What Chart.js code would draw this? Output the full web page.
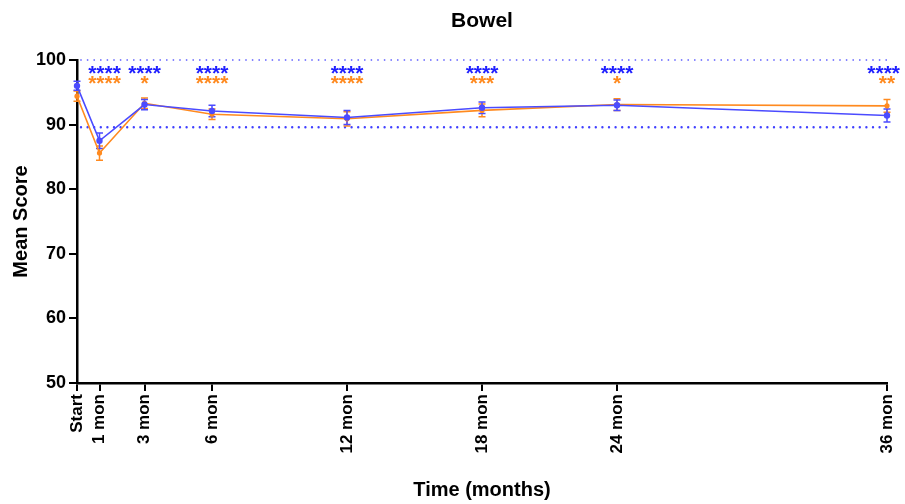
<!DOCTYPE html>
<html>
<head>
<meta charset="utf-8">
<script src="https://cdn.jsdelivr.net/npm/chart.js@4/dist/chart.umd.min.js"></script>
<style>
html,body{margin:0;padding:0;background:#fff;}
#wrap{width:905px;height:504px;position:relative;}
</style>
</head>
<body>
<div id="wrap"><canvas id="c" width="905" height="504"></canvas></div>
<script>
// ---- data ----
const chartTitle = 'Bowel';
const months = [0, 1, 3, 6, 12, 18, 24, 36];
const xLabels = ['Start', '1 mon', '3 mon', '6 mon', '12 mon', '18 mon', '24 mon', '36 mon'];
const yTicks = [50, 60, 70, 80, 90, 100];
const blueMean = [96.0, 87.5, 93.1, 92.1, 91.1, 92.6, 93.0, 91.4];
const blueErr = [0.7, 1.2, 0.8, 0.9, 1.1, 0.9, 0.8, 1.0];
const orangeMean = [94.4, 85.6, 93.3, 91.6, 90.9, 92.2, 93.1, 92.9];
const orangeErr = [0.8, 1.1, 0.8, 0.8, 1.1, 1.0, 0.9, 1.0];
const blueStars = ['', '****', '****', '****', '****', '****', '****', '****'];
const orangeStars = ['', '****', '*', '****', '****', '***', '*', '**'];
const refLines = [100, 89.6];

const BLUE = '#4b4bff';
const ORANGE = '#ff8a1f';
const FONT = "'Liberation Sans', Arial, sans-serif";

const extras = {
  id: 'extras',
  beforeDatasetsDraw(chart) {
    const ctx = chart.ctx, x = chart.scales.x, y = chart.scales.y;
    const ca = chart.chartArea;
    ctx.save();
    // dotted reference lines
    refLines.forEach((v, i) => {
      const py = y.getPixelForValue(v);
      ctx.beginPath();
      ctx.setLineDash([0, 6.6]);
      ctx.lineCap = 'round';
      ctx.lineWidth = i === 0 ? 1.8 : 2.4;
      ctx.strokeStyle = i === 0 ? '#7a7aff' : '#4040ff';
      ctx.moveTo(ca.left + 4, py);
      ctx.lineTo(ca.right, py);
      ctx.stroke();
    });
    ctx.setLineDash([]);
    ctx.lineCap = 'butt';
    // error bars
    const series = [[orangeMean, orangeErr, ORANGE], [blueMean, blueErr, BLUE]];
    series.forEach(([m, e, col]) => {
      ctx.strokeStyle = col;
      ctx.lineWidth = 1.5;
      months.forEach((mo, i) => {
        const px = x.getPixelForValue(mo);
        const y1 = y.getPixelForValue(m[i] + e[i]);
        const y2 = y.getPixelForValue(m[i] - e[i]);
        ctx.beginPath();
        ctx.moveTo(px, y1); ctx.lineTo(px, y2);
        ctx.moveTo(px - 3.5, y1); ctx.lineTo(px + 3.5, y1);
        ctx.moveTo(px - 3.5, y2); ctx.lineTo(px + 3.5, y2);
        ctx.stroke();
      });
    });
    ctx.restore();
  },
  afterDraw(chart) {
    const ctx = chart.ctx, x = chart.scales.x;
    const ca = chart.chartArea;
    ctx.save();
    // title centred over the plot area
    ctx.fillStyle = '#000';
    ctx.font = 'bold 21px ' + FONT;
    ctx.textAlign = 'center';
    ctx.textBaseline = 'middle';
    ctx.fillText(chartTitle, (ca.left + ca.right) / 2, 21);
    // significance stars
    ctx.textBaseline = 'alphabetic';
    const rows = [[blueStars, '#1f1fff', 79.5], [orangeStars, ORANGE, 90]];
    rows.forEach(([stars, col, base]) => {
      ctx.fillStyle = col;
      months.forEach((mo, i) => {
        if (!stars[i]) return;
        let px = x.getPixelForValue(mo);
        if (i === 1) px += 5;
        const w = ctx.measureText(stars[i]).width;
        if (px + w / 2 > 900) px = 900 - w / 2;
        ctx.fillText(stars[i], px, base);
      });
    });
    ctx.restore();
  }
};

new Chart(document.getElementById('c'), {
  type: 'line',
  data: {
    datasets: [
      {
        label: 'Blue',
        data: months.map((m, i) => ({x: m, y: blueMean[i]})),
        borderColor: BLUE,
        backgroundColor: BLUE,
        borderWidth: 1.6,
        pointRadius: 3.2,
        pointBorderWidth: 0,
        tension: 0,
        clip: false
      },
      {
        label: 'Orange',
        data: months.map((m, i) => ({x: m, y: orangeMean[i]})),
        borderColor: ORANGE,
        backgroundColor: ORANGE,
        borderWidth: 1.6,
        pointRadius: 2.6,
        pointBorderWidth: 0,
        tension: 0,
        clip: false
      }
    ]
  },
  options: {
    responsive: false,
    animation: false,
    events: [],
    layout: {padding: {left: 0, right: 18, top: 60, bottom: 0}},
    plugins: {
      legend: {display: false},
      tooltip: {enabled: false},
      title: {display: false}
    },
    scales: {
      x: {
        type: 'linear',
        min: 0, max: 36,
        afterBuildTicks(s) { s.ticks = months.map(v => ({value: v})); },
        afterFit(s) { s.height = 121; s.paddingLeft = 0; s.paddingRight = 0; },
        ticks: {
          autoSkip: false,
          maxRotation: 90, minRotation: 90,
          color: '#000',
          padding: 3,
          font: {family: FONT, size: 17, weight: 'bold'},
          callback: (v) => { const i = months.indexOf(v); return i >= 0 ? xLabels[i] : ''; }
        },
        grid: {drawOnChartArea: false, drawTicks: true, tickLength: 8, color: '#000', lineWidth: 2},
        border: {display: true, color: '#000', width: 2.5},
        title: {
          display: true, text: 'Time (months)', color: '#000',
          font: {family: FONT, size: 20, weight: 'bold', lineHeight: 1.2},
          padding: {top: 0, bottom: 2}
        }
      },
      y: {
        min: 50, max: 100,
        afterBuildTicks(s) { s.ticks = yTicks.map(v => ({value: v})); },
        afterFit(s) { s.width = 77; s.paddingTop = 0; s.paddingBottom = 0; },
        ticks: {
          color: '#000',
          padding: 3,
          font: {family: FONT, size: 18, weight: 'bold'}
        },
        grid: {drawOnChartArea: false, drawTicks: true, tickLength: 8, color: '#000', lineWidth: 2},
        border: {display: true, color: '#000', width: 2.5},
        title: {
          display: true, text: 'Mean Score', color: '#000',
          font: {family: FONT, size: 20, weight: 'bold', lineHeight: 1.2},
          padding: {top: 9, bottom: 0}
        }
      }
    }
  },
  plugins: [extras]
});
</script>
</body>
</html>
